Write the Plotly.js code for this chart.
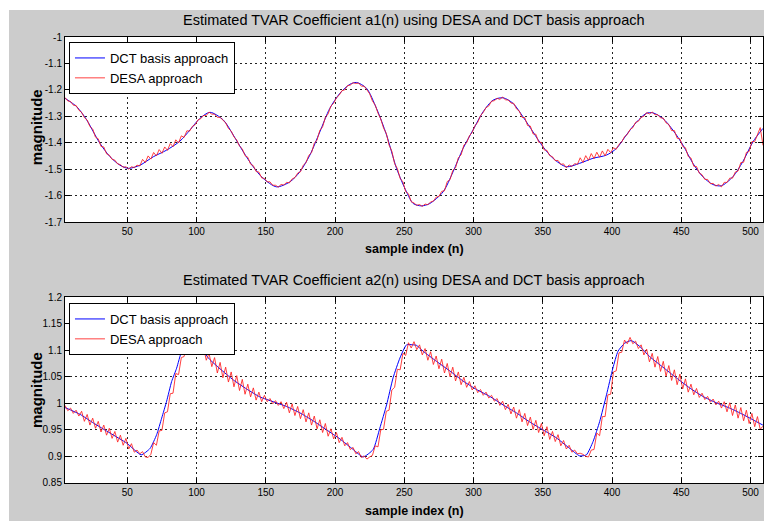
<!DOCTYPE html>
<html>
<head>
<meta charset="utf-8">
<script src="https://cdn.plot.ly/plotly-3.0.1.min.js"></script>
<style>
html,body{margin:0;padding:0;background:#ffffff;width:764px;height:521px;overflow:hidden;}
#chart{position:absolute;left:9px;top:10px;width:755px;height:511px;}
</style>
</head>
<body>
<div id="chart"></div>
<script>
// ---- top panel: a1(n) ----
const a1DctX = [5,13.5,20.7,25.5,30.3,37.5,44.7,50.7,59.2,68.8,78.4,88,95.2,102.4,109.7,119.3,126.5,133.7,140.9,148.1,157.8,167.4,174.6,181.8,189,196.2,203.5,210.7,215.5,222.7,229.9,237.2,244.4,251.6,256.4,262.4,268.4,278,285.2,292.4,299.6,306.9,314.1,321.3,328.5,335.7,342.9,350.1,357.4,367,376.6,386.2,395.9,403.1,410.3,417.5,424.7,429.5,436.7,443.9,451.2,458.4,465.6,472.8,478.9,487.2,494.4,501.7,508.9];
const a1DctY = [-1.232,-1.264,-1.314,-1.359,-1.403,-1.453,-1.485,-1.497,-1.485,-1.453,-1.428,-1.394,-1.352,-1.308,-1.285,-1.314,-1.371,-1.434,-1.491,-1.535,-1.567,-1.548,-1.510,-1.447,-1.359,-1.270,-1.213,-1.179,-1.172,-1.194,-1.270,-1.371,-1.497,-1.586,-1.630,-1.639,-1.630,-1.586,-1.510,-1.422,-1.352,-1.283,-1.239,-1.230,-1.251,-1.302,-1.359,-1.415,-1.459,-1.491,-1.478,-1.459,-1.447,-1.422,-1.371,-1.323,-1.289,-1.287,-1.308,-1.352,-1.409,-1.478,-1.529,-1.558,-1.563,-1.529,-1.472,-1.397,-1.346];

// sample indices of the DESA estimates (shared by both panels)
const desaX = [5,7,9,11,13,15,17,19,21,23,25,27,29,31,33,35,37,39,41,43,45,47,49,51,53,55,57,59,61,63,65,67,69,71,73,75,77,79,81,83,85,87,89,91,93,95,97,99,
101,103,105,107,109,111,113,115,117,119,121,123,125,127,129,131,133,135,137,139,141,143,145,147,149,151,153,155,157,159,161,163,165,167,169,171,173,175,177,179,181,183,185,187,189,191,193,195,197,199,
201,203,205,207,209,211,213,215,217,219,221,223,225,227,229,231,233,235,237,239,241,243,245,247,249,251,253,255,257,259,261,263,265,267,269,271,273,275,277,279,281,283,285,287,289,291,293,295,297,299,
301,303,305,307,309,311,313,315,317,319,321,323,325,327,329,331,333,335,337,339,341,343,345,347,349,351,353,355,357,359,361,363,365,367,369,371,373,375,377,379,381,383,385,387,389,391,393,395,397,399,
401,403,405,407,409,411,413,415,417,419,421,423,425,427,429,431,433,435,437,439,441,443,445,447,449,451,453,455,457,459,461,463,465,467,469,471,473,475,477,479,481,483,485,487,489,491,493,495,497,499,
501,503,505,507,509];

const a1DesaY = [-1.229,-1.242,-1.244,-1.258,-1.259,-1.277,-1.285,-1.305,-1.314,-1.339,-1.348,-1.379,-1.385,-1.414,-1.416,-1.442,-1.447,-1.463,-1.466,-1.480,-1.483,-1.493,-1.491,-1.500,-1.491,-1.494,-1.485,-1.488,-1.463,-1.475,-1.450,-1.462,-1.437,-1.450,-1.426,-1.440,-1.416,-1.429,-1.403,-1.415,-1.389,-1.401,-1.374,-1.380,-1.355,-1.356,-1.338,-1.332,
-1.314,-1.309,-1.297,-1.297,-1.284,-1.292,-1.292,-1.304,-1.304,-1.316,-1.325,-1.346,-1.356,-1.378,-1.390,-1.413,-1.423,-1.449,-1.455,-1.481,-1.487,-1.509,-1.511,-1.533,-1.535,-1.548,-1.548,-1.561,-1.561,-1.568,-1.558,-1.560,-1.550,-1.552,-1.537,-1.532,-1.515,-1.510,-1.486,-1.475,-1.448,-1.438,-1.402,-1.390,-1.353,-1.340,-1.304,-1.291,-1.261,-1.251,
-1.230,-1.220,-1.203,-1.200,-1.184,-1.182,-1.173,-1.176,-1.174,-1.186,-1.186,-1.200,-1.215,-1.242,-1.258,-1.288,-1.310,-1.344,-1.365,-1.409,-1.432,-1.479,-1.498,-1.535,-1.548,-1.585,-1.593,-1.623,-1.628,-1.637,-1.634,-1.641,-1.632,-1.635,-1.624,-1.621,-1.606,-1.603,-1.584,-1.582,-1.547,-1.540,-1.505,-1.495,-1.457,-1.446,-1.409,-1.400,-1.374,-1.361,
-1.336,-1.323,-1.298,-1.285,-1.267,-1.261,-1.243,-1.241,-1.232,-1.236,-1.227,-1.238,-1.238,-1.250,-1.251,-1.272,-1.280,-1.304,-1.305,-1.335,-1.337,-1.367,-1.368,-1.398,-1.399,-1.427,-1.429,-1.449,-1.453,-1.468,-1.467,-1.482,-1.480,-1.495,-1.484,-1.490,-1.479,-1.482,-1.457,-1.475,-1.449,-1.467,-1.441,-1.460,-1.436,-1.455,-1.431,-1.450,-1.425,-1.438,
-1.419,-1.425,-1.406,-1.397,-1.377,-1.369,-1.350,-1.343,-1.323,-1.319,-1.304,-1.300,-1.286,-1.291,-1.284,-1.294,-1.294,-1.306,-1.307,-1.325,-1.331,-1.354,-1.354,-1.383,-1.385,-1.414,-1.419,-1.452,-1.458,-1.489,-1.490,-1.515,-1.521,-1.539,-1.539,-1.555,-1.554,-1.564,-1.558,-1.567,-1.550,-1.550,-1.534,-1.534,-1.511,-1.507,-1.475,-1.474,-1.437,-1.433,
-1.396,-1.396,-1.366,-1.343,-1.410];

// ---- bottom panel: a2(n) ----
const a2DctX = [5,16,25.5,37.5,49.6,60,66.4,71.2,74.8,78.4,82,85.6,89.2,93,97,100,103.7,109.7,116.9,126.5,136.1,145.7,155.3,165,174.6,184.2,193.9,203.5,213.1,220.3,227.5,232.3,237.2,241.9,246.8,251.6,256.4,258.8,263.6,273.2,282.8,292.4,302.1,311.7,321.3,330.9,340.5,350.1,359.8,369.4,376.6,381.5,386.3,391.1,396,400.6,404.3,409.1,413.9,420,427.1,436.7,446.4,456,465.6,475.2,484.9,494.5,501.7,508.9];
const a2DctY = [0.992,0.979,0.963,0.944,0.925,0.903,0.915,0.941,0.972,1.004,1.041,1.066,1.098,1.115,1.122,1.118,1.101,1.082,1.065,1.044,1.027,1.012,1.003,0.994,0.982,0.967,0.950,0.933,0.913,0.899,0.913,0.953,0.997,1.048,1.085,1.110,1.110,1.109,1.098,1.079,1.061,1.042,1.026,1.013,0.997,0.982,0.965,0.950,0.935,0.915,0.901,0.903,0.928,0.966,1.016,1.066,1.098,1.113,1.118,1.107,1.088,1.068,1.048,1.029,1.013,1.001,0.991,0.979,0.969,0.959];

const a2DesaY = [0.996,0.986,0.991,0.981,0.987,0.976,0.985,0.966,0.979,0.959,0.972,0.953,0.966,0.946,0.959,0.940,0.953,0.934,0.947,0.927,0.940,0.921,0.934,0.914,0.924,0.908,0.912,0.905,0.909,0.899,0.898,0.904,0.926,0.921,0.948,0.949,0.982,0.984,1.018,1.019,1.056,1.054,1.086,1.088,1.112,1.109,1.124,1.114,
1.118,1.098,1.107,1.081,1.094,1.069,1.086,1.057,1.077,1.048,1.068,1.040,1.059,1.031,1.052,1.024,1.045,1.017,1.036,1.012,1.029,1.006,1.021,1.003,1.015,1.003,1.009,0.999,1.005,0.996,1.003,0.990,1.002,0.982,0.999,0.977,0.994,0.971,0.988,0.965,0.982,0.959,0.976,0.952,0.969,0.945,0.962,0.938,0.952,0.933,
0.945,0.926,0.936,0.920,0.926,0.913,0.917,0.905,0.909,0.898,0.901,0.895,0.899,0.902,0.920,0.918,0.950,0.951,0.985,0.987,1.025,1.030,1.064,1.063,1.094,1.090,1.114,1.104,1.116,1.101,1.110,1.091,1.103,1.081,1.097,1.073,1.089,1.065,1.083,1.057,1.075,1.050,1.068,1.042,1.059,1.035,1.049,1.030,1.041,1.025,
1.033,1.020,1.026,1.015,1.021,1.010,1.015,1.004,1.009,0.996,1.004,0.988,0.998,0.980,0.993,0.972,0.988,0.965,0.981,0.958,0.974,0.951,0.968,0.945,0.962,0.939,0.956,0.932,0.947,0.928,0.941,0.920,0.930,0.914,0.921,0.908,0.912,0.905,0.906,0.904,0.900,0.899,0.912,0.913,0.944,0.939,0.975,0.975,1.016,1.017,
1.059,1.061,1.095,1.096,1.119,1.112,1.124,1.112,1.117,1.103,1.110,1.091,1.102,1.078,1.094,1.068,1.088,1.060,1.079,1.051,1.071,1.043,1.063,1.035,1.055,1.027,1.046,1.021,1.036,1.016,1.028,1.011,1.019,1.007,1.013,1.002,1.008,0.997,1.004,0.991,1.003,0.984,1.001,0.977,0.997,0.972,0.992,0.967,0.987,0.962,
0.981,0.956,0.975,0.951,0.957];

// ---- labels ----
const xTicks = [50,100,150,200,250,300,350,400,450,500];
const a1Ticks = [-1.7,-1.6,-1.5,-1.4,-1.3,-1.2,-1.1,-1];
const a1TickText = ['-1.7','-1.6','-1.5','-1.4','-1.3','-1.2','-1.1','-1'];
const a2Ticks = [0.85,0.9,0.95,1,1.05,1.1,1.15,1.2];
const a2TickText = ['0.85','0.9','0.95','1','1.05','1.1','1.15','1.2'];
const seriesNames = ['DCT basis approach','DESA approach'];
const titles = ['Estimated TVAR Coefficient a1(n) using DESA and DCT basis approach',
                'Estimated TVAR Coefficient a2(n) using DESA and DCT basis approach'];
const xLabel = 'sample index (n)';
const yLabel = 'magnitude';

const FONT = '"Liberation Sans", Arial, sans-serif';
const BLUE = '#0000ff', RED = '#ff2020';

const traces = [
  {x:a1DctX, y:a1DctY, type:'scatter', mode:'lines', name:seriesNames[0], xaxis:'x', yaxis:'y',
   line:{color:BLUE, width:1, shape:'spline', smoothing:0.8}, legend:'legend'},
  {x:desaX, y:a1DesaY, type:'scatter', mode:'lines', name:seriesNames[1], xaxis:'x', yaxis:'y',
   line:{color:RED, width:1}, opacity:0.85, legend:'legend'},
  {x:a2DctX, y:a2DctY, type:'scatter', mode:'lines', name:seriesNames[0], xaxis:'x2', yaxis:'y2',
   line:{color:BLUE, width:1, shape:'spline', smoothing:0.5}, legend:'legend2'},
  {x:desaX, y:a2DesaY, type:'scatter', mode:'lines', name:seriesNames[1], xaxis:'x2', yaxis:'y2',
   line:{color:RED, width:1}, opacity:0.85, legend:'legend2'}
];

function xAxis(anchor){
  return {anchor:anchor, range:[5,509], tickvals:xTicks, ticktext:xTicks.map(String),
    ticks:'inside', ticklen:5, tickcolor:'#000', showline:true, linecolor:'#000', linewidth:1,
    mirror:'ticks', showgrid:true, gridcolor:'#222', gridwidth:1, griddash:'2px,3px',
    zeroline:false, tickfont:{family:FONT, size:10, color:'#000'}};
}
function yAxis(anchor, dom, rng, tv, tt){
  return {anchor:anchor, domain:dom, range:rng, tickvals:tv, ticktext:tt,
    ticks:'inside', ticklen:5, tickcolor:'#000', showline:true, linecolor:'#000', linewidth:1,
    mirror:'ticks', showgrid:true, gridcolor:'#222', gridwidth:1, griddash:'2px,3px',
    zeroline:false, tickfont:{family:FONT, size:10, color:'#000'}};
}

const legendStyle = {bgcolor:'#ffffff', bordercolor:'#000', borderwidth:1,
  font:{family:FONT, size:13, color:'#000'}, xanchor:'left', yanchor:'top', itemwidth:30, tracegroupgap:0};

const layout = {
  width:755, height:511,
  margin:{l:56, r:1, t:27, b:38},
  paper_bgcolor:'#cccccc', plot_bgcolor:'#ffffff',
  showlegend:true,
  xaxis: xAxis('y'),
  yaxis: yAxis('x', [0.5852,1], [-1.7,-1], a1Ticks, a1TickText),
  xaxis2: xAxis('y2'),
  yaxis2: yAxis('x2', [0,0.417], [0.85,1.2], a2Ticks, a2TickText),
  legend: Object.assign({x:0.0057, y:0.9888}, legendStyle),
  legend2: Object.assign({x:0.0057, y:0.4036}, legendStyle),
  annotations:[
    {text:titles[0], xref:'paper', yref:'paper', x:0.5, y:1.0381, xanchor:'center', yanchor:'middle', showarrow:false,
     font:{family:FONT, size:14.5, color:'#000'}},
    {text:titles[1], xref:'paper', yref:'paper', x:0.5, y:0.4552, xanchor:'center', yanchor:'middle', showarrow:false,
     font:{family:FONT, size:14.5, color:'#000'}},
    {text:'<b>'+xLabel+'</b>', xref:'paper', yref:'paper', x:0.5, y:0.5247, xanchor:'center', yanchor:'middle', showarrow:false,
     font:{family:FONT, size:12.5, color:'#000'}},
    {text:'<b>'+xLabel+'</b>', xref:'paper', yref:'paper', x:0.5, y:-0.0639, xanchor:'center', yanchor:'middle', showarrow:false,
     font:{family:FONT, size:12.5, color:'#000'}},
    {text:'<b>'+yLabel+'</b>', xref:'paper', yref:'paper', x:-0.0415, y:0.798, xanchor:'center', yanchor:'middle', textangle:-90, showarrow:false,
     font:{family:FONT, size:15, color:'#000'}},
    {text:'<b>'+yLabel+'</b>', xref:'paper', yref:'paper', x:-0.0415, y:0.2085, xanchor:'center', yanchor:'middle', textangle:-90, showarrow:false,
     font:{family:FONT, size:15, color:'#000'}}
  ]
};

Plotly.newPlot('chart', traces, layout, {displayModeBar:false, staticPlot:true});
</script>
</body>
</html>
